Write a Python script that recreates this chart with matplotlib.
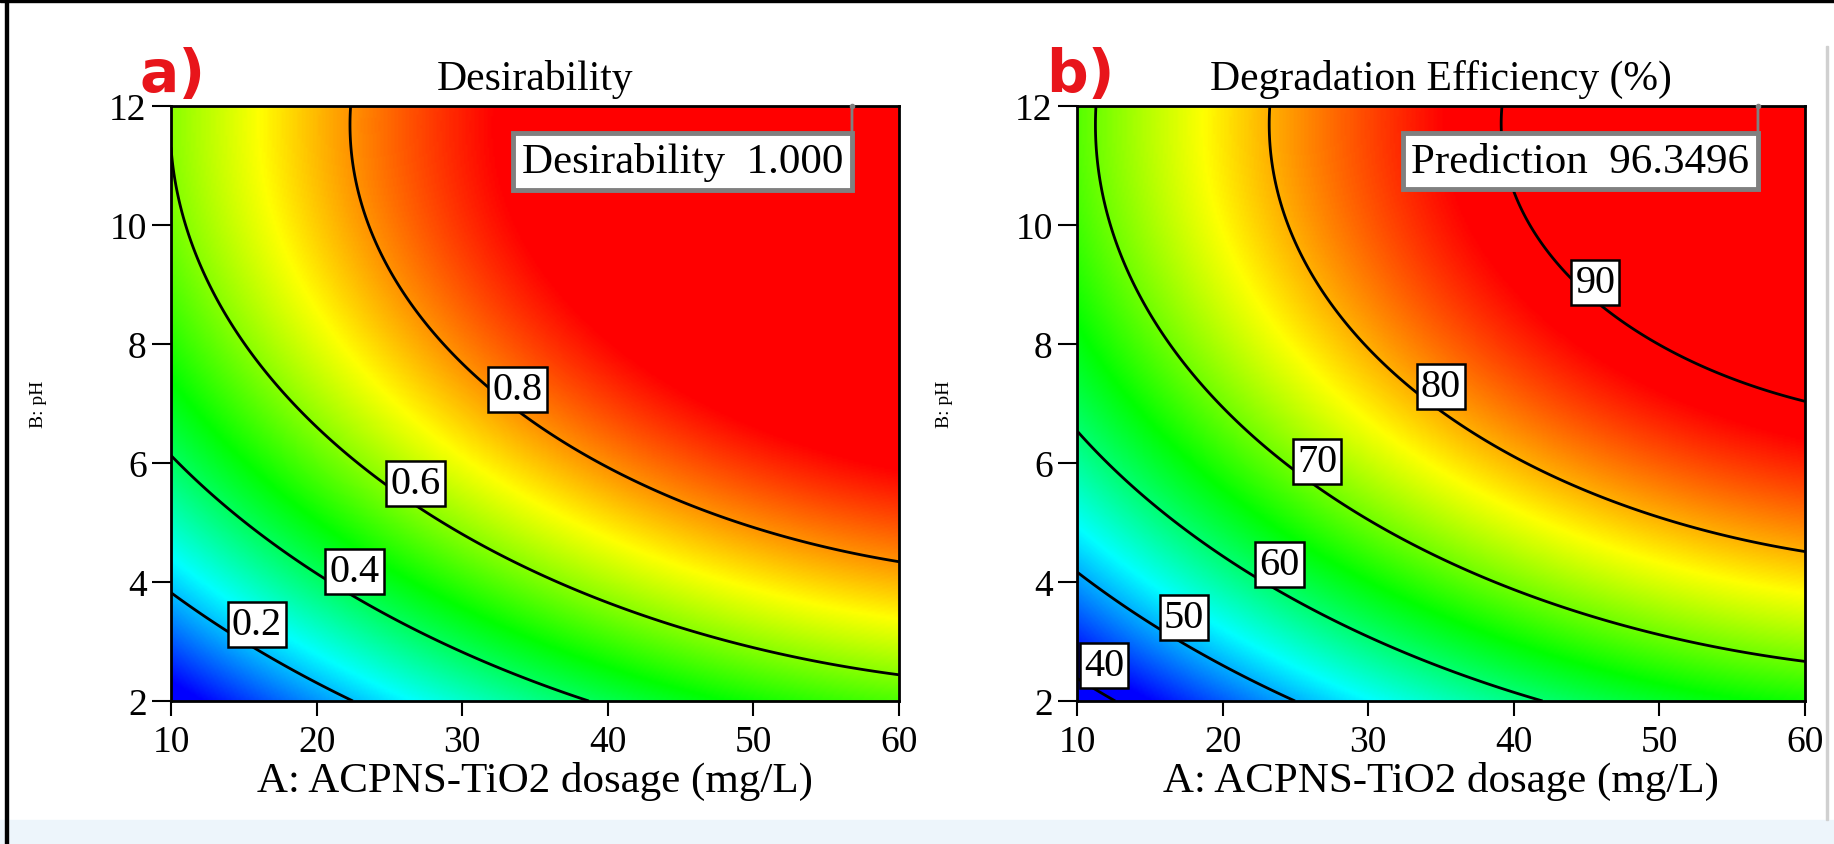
import numpy as np
import matplotlib.pyplot as plt
from matplotlib.colors import LinearSegmentedColormap
from matplotlib.patches import Rectangle

plt.rcParams['font.family'] = ['Liberation Serif', 'DejaVu Serif']

# quadratic response-surface coefficients in coded units
# order: intercept, A, B, AB, A^2, B^2   (A = (dose-35)/25, B = (pH-7)/5)
des_coef = [0.8206, 0.2720, 0.2988, -0.0046, -0.0907, -0.1607]
deg_coef = [80.41, 14.19, 15.66, 0.0598, -4.714, -8.326]

dose_range = [10, 60]
ph_range = [2, 12]
dose_ticks = [10, 20, 30, 40, 50, 60]
ph_ticks = [2, 4, 6, 8, 10, 12]

des_levels = [0.2, 0.4, 0.6, 0.8]
deg_levels = [40, 50, 60, 70, 80, 90]
des_label_pos = [(15.9, 3.28), (22.6, 4.17), (26.8, 5.66), (33.8, 7.24)]
deg_label_pos = [(11.85, 2.59), (17.35, 3.41), (23.9, 4.29), (26.5, 6.03), (35.0, 7.29), (45.6, 9.04)]

opt_dose, opt_ph = 56.77, 12
opt_desirability = 1.000
opt_prediction = 96.3496


def model(c, X, Y):
    a = (X - 35) / 25
    b = (Y - 7) / 5
    return c[0] + c[1] * a + c[2] * b + c[3] * a * b + c[4] * a * a + c[5] * b * b


cmap = LinearSegmentedColormap.from_list('dx', ['#0000ff', '#00ffff', '#00ff00', '#ffff00', '#ff0000'])

fig = plt.figure(figsize=(18.34, 8.45), dpi=100)
# screenshot frame bits
fig.patches.append(Rectangle((0, 0), 1, 24 / 845, transform=fig.transFigure, color='#edf5fb', zorder=0))
fig.patches.append(Rectangle((0, 1 - 3 / 845), 1, 3 / 845, transform=fig.transFigure, color='black', zorder=0))
fig.patches.append(Rectangle((5 / 1834, 0), 3 / 1834, 1, transform=fig.transFigure, color='black', zorder=0))
fig.patches.append(Rectangle((1826 / 1834, 24 / 845), 1.5 / 1834, 774 / 845, transform=fig.transFigure,
                             color='#d0d0d0', zorder=0))

gx = np.linspace(dose_range[0], dose_range[1], 400)
gy = np.linspace(ph_range[0], ph_range[1], 400)
GX, GY = np.meshgrid(gx, gy)

panels = [
    dict(left=171 / 1834, c=des_coef, levels=des_levels, pos=des_label_pos, vmin=0.03, vmax=0.93,
         title='Desirability', box='Desirability  {:.3f}'.format(opt_desirability), tag='a)', fmt='{:.1f}'),
    dict(left=1077 / 1834, c=deg_coef, levels=deg_levels, pos=deg_label_pos, vmin=42, vmax=88,
         title='Degradation Efficiency (%)', box='Prediction  {:.4f}'.format(opt_prediction), tag='b)', fmt='{:.0f}'),
]

for p in panels:
    ax = fig.add_axes([p['left'], 143 / 845, 728 / 1834, 595 / 845])
    Z = model(p['c'], GX, GY)
    ax.imshow(Z, origin='lower', extent=dose_range + ph_range, aspect='auto', cmap=cmap,
              vmin=p['vmin'], vmax=p['vmax'], interpolation='bilinear')
    ax.contour(GX, GY, Z, levels=p['levels'], colors='black', linewidths=2.0)
    for lev, (lx, ly) in zip(p['levels'], p['pos']):
        ax.text(lx, ly, p['fmt'].format(lev), fontsize=29, ha='center', va='center',
                bbox=dict(boxstyle='square,pad=0.1', fc='white', ec='black', lw=1.8))
    ax.set_xlim(dose_range)
    ax.set_ylim(ph_range)
    ax.set_xticks(dose_ticks)
    ax.set_yticks(ph_ticks)
    ax.tick_params(axis='x', direction='out', length=11, width=1.5, labelsize=27, pad=6)
    ax.tick_params(axis='y', direction='out', length=13.5, width=1.5, labelsize=27, pad=4)
    for s in ax.spines.values():
        s.set_linewidth(2)
    ax.set_xlabel('A: ACPNS-TiO2 dosage (mg/L)', fontsize=31, labelpad=1)
    ax.set_ylabel('B: pH', fontsize=14)
    ax.yaxis.set_label_coords(-0.17, 0.5)
    ax.set_title(p['title'], fontsize=30, pad=12)

    # flag line from the optimum down into the readout box
    ax.annotate('', xy=(opt_dose, opt_ph), xytext=(0, -30), textcoords='offset points',
                annotation_clip=False,
                arrowprops=dict(arrowstyle='-', color='#808080', lw=2, shrinkA=0, shrinkB=0))
    ax.annotate(p['box'], xy=(opt_dose, opt_ph), xytext=(-6.2, -26), textcoords='offset points',
                ha='right', va='top', fontsize=31, annotation_clip=False, zorder=6,
                bbox=dict(boxstyle='square,pad=0.2', fc='white', ec='#808080', lw=3.5))
    ax.plot([opt_dose], [opt_ph], 'o', ms=3, color='#808080', clip_on=False, zorder=5)

    fig.text(p['left'] - 31 / 1834, 1 - 92 / 845, p['tag'], color='#e8151b', fontsize=42,
             fontweight='bold', family='DejaVu Sans', va='baseline')

fig.savefig('out.png', dpi=100)
